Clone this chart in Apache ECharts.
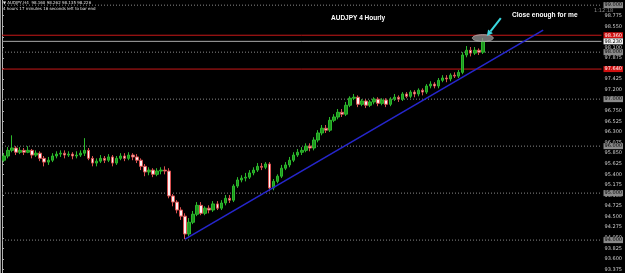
<!DOCTYPE html>
<html>
<head>
<meta charset="utf-8">
<title>AUDJPY 4 Hourly</title>
<script src="https://cdn.jsdelivr.net/npm/echarts@6/dist/echarts.min.js"></script>
<style>
html, body { margin: 0; padding: 0; background: #000; }
#chart { width: 625px; height: 273px; }
</style>
</head>
<body>
<div id="chart"></div>
<script>
// H4 bars: open, close, low, high
var candles = [
    [95.70,95.79,95.66,95.85],[95.79,95.91,95.74,95.98],[95.91,95.96,95.87,96.23],[95.96,95.87,95.81,96.00],
    [95.87,95.91,95.83,95.98],[95.91,95.87,95.81,95.96],[95.87,95.91,95.85,96.00],[95.91,95.81,95.74,95.94],
    [95.81,95.85,95.77,95.91],[95.85,95.74,95.68,95.89],[95.74,95.66,95.57,95.79],[95.66,95.70,95.60,95.77],
    [95.70,95.79,95.66,95.85],[95.79,95.83,95.74,95.89],[95.83,95.85,95.77,95.91],[95.85,95.81,95.74,95.91],
    [95.81,95.83,95.77,95.89],[95.83,95.79,95.72,95.87],[95.79,95.81,95.74,95.89],[95.81,95.85,95.77,95.91],
    [95.85,95.91,95.79,96.17],[95.91,95.74,95.70,95.96],[95.74,95.64,95.57,95.79],[95.64,95.68,95.57,95.74],
    [95.68,95.74,95.64,95.81],[95.74,95.70,95.64,95.79],[95.70,95.77,95.66,95.83],[95.77,95.64,95.57,95.81],
    [95.64,95.74,95.60,95.79],[95.74,95.79,95.70,95.85],[95.79,95.74,95.68,95.85],[95.74,95.81,95.70,95.87],
    [95.81,95.77,95.70,95.85],[95.77,95.70,95.64,95.83],[95.70,95.57,95.49,95.74],[95.57,95.45,95.36,95.62],
    [95.45,95.49,95.38,95.55],[95.49,95.40,95.34,95.53],[95.40,95.47,95.36,95.53],[95.47,95.49,95.40,95.55],
    [95.49,95.47,95.40,95.57],[95.47,94.94,94.89,95.53],[94.94,94.81,94.72,94.98],[94.81,94.64,94.57,94.85],
    [94.64,94.51,94.43,94.70],[94.51,94.13,94.02,94.57],[94.13,94.38,94.08,94.47],[94.38,94.55,94.34,94.62],
    [94.55,94.74,94.51,94.81],[94.74,94.57,94.53,94.81],[94.57,94.68,94.53,94.72],[94.68,94.64,94.57,94.74],
    [94.64,94.77,94.60,94.83],[94.77,94.68,94.64,94.83],[94.68,94.79,94.64,94.85],[94.79,94.89,94.74,94.96],
    [94.89,94.85,94.79,94.96],[94.85,95.15,94.81,95.19],[95.15,95.28,95.11,95.34],[95.28,95.32,95.23,95.38],
    [95.32,95.34,95.25,95.43],[95.34,95.43,95.30,95.49],[95.43,95.49,95.38,95.55],[95.49,95.57,95.45,95.64],
    [95.57,95.55,95.49,95.64],[95.55,95.62,95.51,95.66],[95.62,95.11,95.04,95.66],[95.11,95.25,95.06,95.30],
    [95.25,95.36,95.21,95.40],[95.36,95.53,95.32,95.60],[95.53,95.60,95.49,95.66],[95.60,95.70,95.55,95.77],
    [95.70,95.81,95.66,95.87],[95.81,95.87,95.77,95.94],[95.87,95.91,95.81,95.98],[95.91,96.00,95.87,96.06],
    [96.00,95.96,95.89,96.06],[95.96,96.13,95.91,96.19],[96.13,96.28,96.08,96.34],[96.28,96.38,96.23,96.45],
    [96.38,96.34,96.28,96.45],[96.34,96.55,96.30,96.62],[96.55,96.62,96.51,96.68],[96.62,96.72,96.57,96.79],
    [96.72,96.68,96.62,96.79],[96.68,96.87,96.64,96.94],[96.87,97.02,96.83,97.06],[97.02,97.04,96.98,97.11],
    [97.04,96.89,96.83,97.08],[96.89,96.96,96.85,97.00],[96.96,96.87,96.81,97.00],[96.87,96.94,96.83,96.98],
    [96.94,97.00,96.89,97.04],[97.00,96.91,96.85,97.04],[96.91,96.98,96.87,97.02],[96.98,96.89,96.83,97.02],
    [96.89,97.00,96.85,97.04],[97.00,97.04,96.96,97.11],[97.04,97.00,96.94,97.08],[97.00,97.11,96.96,97.15],
    [97.11,97.06,97.02,97.15],[97.06,97.15,97.02,97.19],[97.15,97.11,97.04,97.19],[97.11,97.19,97.06,97.23],
    [97.19,97.15,97.08,97.23],[97.15,97.28,97.11,97.32],[97.28,97.32,97.23,97.38],[97.32,97.28,97.23,97.36],
    [97.28,97.40,97.23,97.45],[97.40,97.45,97.36,97.51],[97.45,97.43,97.36,97.51],[97.43,97.51,97.38,97.55],
    [97.51,97.49,97.45,97.57],[97.49,97.57,97.45,97.62],[97.57,97.94,97.53,98.00],[97.94,98.04,97.89,98.13],
    [98.04,97.98,97.91,98.11],[97.98,98.04,97.94,98.11],[98.04,98.00,97.94,98.08],[98.00,98.23,97.96,98.30]
];
var priceTicks = [93.375, 93.600, 93.825, 94.050, 94.275, 94.500, 94.725, 94.950, 95.175, 95.400,
    95.625, 95.850, 96.075, 96.300, 96.525, 96.750, 96.975, 97.200, 97.425, 97.650, 97.875,
    98.100, 98.325, 98.550, 98.775];
var gridLevels = [99, 98, 97, 96, 95, 94];
var redLevels = [98.36, 97.64];
var bidPrice = 98.23;
// trendline drawn from the swing low, [bar index, price]
var trendLine = [[45, 94.02], [134, 98.47]];
var shiftBars = 29;

(function(){
    var dom = document.getElementById("chart");
    var chart = echarts.init(dom);

    var slots = [];
    for (var i = 0; i < candles.length + shiftBars; i++) slots.push(String(i));

    // horizontal price levels on a hidden 0..1 x axis so they run edge to edge
    function level(v, color, type, boxBg, boxFg){
        return {
            type: 'line',
            xAxisIndex: 1,
            data: [[0, v], [1, v]],
            symbol: 'none',
            silent: true,
            lineStyle: {color: color, type: type, width: 1},
            emphasis: {disabled: true},
            endLabel: {
                show: true, distance: 2,
                fontSize: 5, fontFamily: 'DejaVu Sans', color: boxFg,
                backgroundColor: boxBg, padding: [1, 1, 0, 1],
                formatter: function(){ return v.toFixed(3); }
            },
            z: 1
        };
    }

    var series = [];
    gridLevels.forEach(function(v){ series.push(level(v, '#8a8a8a', [1, 2], '#8a8a8a', '#000')); });
    redLevels.forEach(function(v){ series.push(level(v, '#c81818', 'solid', '#d01010', '#fff')); });
    series.push(level(bidPrice, '#a8a8a8', 'solid', '#f0f0f0', '#000'));
    series.push({
        type: 'candlestick',
        data: candles,
        barWidth: 3,
        itemStyle: {
            color: '#1e961e', borderColor: '#2cb82c',
            color0: '#fff2f2', borderColor0: '#d85050',
            borderWidth: 1
        },
        z: 3
    });
    series.push({
        type: 'line',
        data: trendLine,
        symbol: 'none',
        lineStyle: {color: '#2626cc', width: 1.6},
        z: 5
    });

    var option = {
        backgroundColor: '#000',
        animation: false,
        grid: {left: 2, right: 12, top: 0, bottom: 0},
        xAxis: [
            {
                type: 'category', data: slots, boundaryGap: true,
                axisLine: {show: false}, axisTick: {show: false}, axisLabel: {show: false}, splitLine: {show: false}
            },
            {
                type: 'value', min: 0, max: 1, show: false
            }
        ],
        yAxis: {
            type: 'value', position: 'right', min: 93.30, max: 99.11, scale: true,
            axisLine: {show: true, lineStyle: {color: '#b0b0b0', width: 1}},
            axisTick: {show: true, length: 2, lineStyle: {color: '#b0b0b0'}, customValues: priceTicks},
            axisLabel: {
                show: true, margin: 3, fontSize: 5, fontFamily: 'DejaVu Sans', color: '#d0d0d0',
                customValues: priceTicks,
                formatter: function(v){ return v.toFixed(3); }
            },
            splitLine: {show: false}
        },
        series: series
    };
    chart.setOption(option);

    // annotation around the last high
    var c = chart.convertToPixel({xAxisIndex: 0, yAxisIndex: 0}, [119, 98.30]);
    var tip = [c[0] + 4, c[1] - 2];
    var tail = [c[0] + 18, c[1] - 20];
    var dx = tip[0] - tail[0], dy = tip[1] - tail[1];
    var len = Math.sqrt(dx * dx + dy * dy);
    var ux = dx / len, uy = dy / len;
    var bx = tip[0] - 6 * ux, by = tip[1] - 6 * uy;

    chart.setOption({
        graphic: [
            {type: 'line', shape: {x1: 0.5, y1: 0, x2: 0.5, y2: 273}, style: {stroke: '#9a9a9a', lineWidth: 1}},
            {type: 'text', left: 3, top: 1, style: {text: '\u25BC AUDJPY,H4  98.160 98.262 98.135 98.226', fill: '#e0e0e0', font: '4px "DejaVu Sans"'}},
            {type: 'text', left: 3, top: 7, style: {text: '4 hours 17 minutes 16 seconds left to bar end', fill: '#e0e0e0', font: '4px "DejaVu Sans"'}},
            {type: 'text', left: 594, top: 8, style: {text: '1:12:18', fill: '#8a8a8a', font: '5px "DejaVu Sans"'}},
            {type: 'text', left: 331, top: 15, style: {text: 'AUDJPY 4 Hourly', fill: '#fff', font: 'bold 6.5px "Liberation Sans"'}},
            {type: 'text', left: 512, top: 12, style: {text: 'Close enough for me', fill: '#fff', font: 'bold 6.6px "Liberation Sans"'}},
            {type: 'ellipse', shape: {cx: c[0], cy: c[1], rx: 10.5, ry: 3.5}, style: {fill: 'rgba(150,150,150,0.75)', stroke: 'rgba(190,190,190,0.6)'}, z: 10},
            {type: 'line', shape: {x1: tail[0], y1: tail[1], x2: bx, y2: by}, style: {stroke: '#3ad8e0', lineWidth: 2}, z: 11},
            {type: 'polygon', shape: {points: [tip, [bx + 3 * uy, by - 3 * ux], [bx - 3 * uy, by + 3 * ux]]}, style: {fill: '#3ad8e0'}, z: 11}
        ]
    });
})();
</script>
</body>
</html>
